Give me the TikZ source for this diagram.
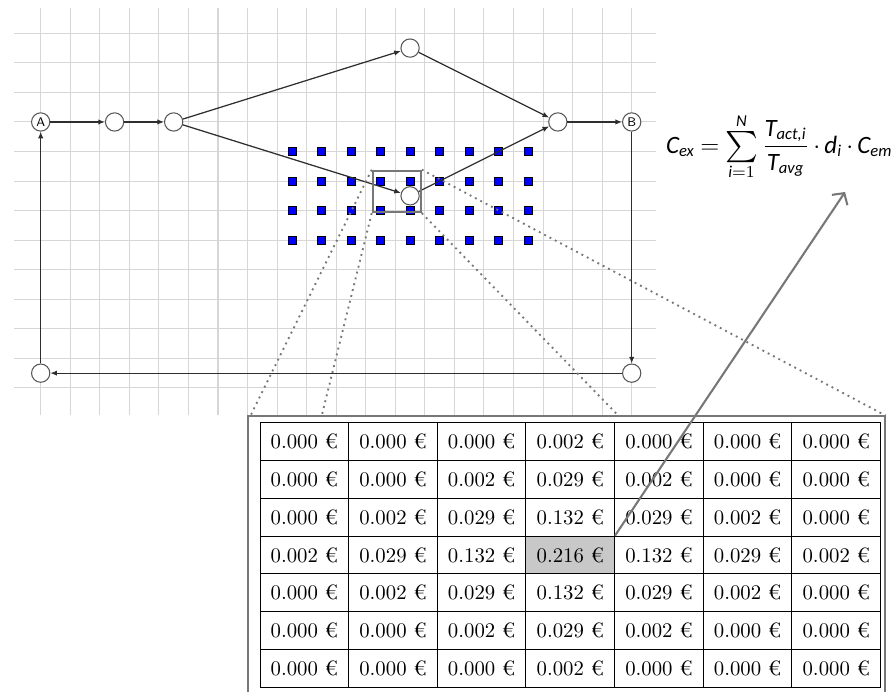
\documentclass[tikz,border=0pt]{standalone}
\definecolor{ZmGrid}{HTML}{D6D6D6}
\definecolor{ZmInk}{HTML}{2E2E2E}
\definecolor{ZmRing}{HTML}{555555}
\definecolor{ZmGray}{HTML}{777777}
\definecolor{ZmBlue}{HTML}{0000FF}
\definecolor{ZmShade}{HTML}{C8C8C8}
\usepackage{amsmath,amssymb}
\usepackage{graphicx}
\usepackage{fontspec}
\newfontfamily\eqfont{Carlito}
\newcommand{\ev}[1]{\text{\eqfont\itshape #1}}
\newcommand{\sumop}{\mathop{\vcenter{\hbox{\scalebox{1.25}{$\textstyle\sum$}}}}\limits}
\usepackage{tikz}
\usetikzlibrary{arrows.meta,positioning,calc}

\begin{document}
\begin{tikzpicture}[x=0.5cm,y=0.5cm,>={Latex[length=3.2pt,width=2.6pt]},
    waypt/.style={circle,draw=ZmRing,fill=white,line width=0.5pt,minimum size=8.8pt,inner sep=0pt,
      font=\sffamily\fontsize{6}{6}\selectfont},
    sensor/.style={rectangle,draw=black,line width=0.3pt,fill=ZmBlue,minimum size=3.9pt,inner sep=0pt},
    flow/.style={->,draw=ZmInk,line width=0.6pt},
    cell/.style={rectangle,draw=black,line width=0.45pt,minimum width=1.5cm,minimum height=0.6413cm,
      inner sep=0pt,font=\normalsize}]
    \useasboundingbox (-1.377,1.127) rectangle (28.775,-22.257);
    \foreach \i in {0,...,20}
      \draw[ZmGrid,line width=0.5pt] (\i,0.856) -- (\i,-12.92);
    \foreach \j in {0,...,12}
      \draw[ZmGrid,line width=0.5pt] (-0.9,-\j) -- (20.82,-\j);
    \foreach \sx in {8.5,9.5,...,16.5}
      \foreach \sy in {4,...,7}
        \node[sensor] (s-\sx-\sy) at (\sx,-\sy) {};
    \node[waypt] (ptA) at (0,-3) {A};
    \node[waypt] (w1) at (2.5,-3) {};
    \node[waypt] (w2) at (4.5,-3) {};
    \node[waypt] (wt) at (12.5,-0.5) {};
    \node[waypt] (wm) at (12.5,-5.5) {};
    \node[waypt] (wr) at (17.5,-3) {};
    \node[waypt] (ptB) at (20,-3) {B};
    \node[waypt] (wbr) at (20,-11.5) {};
    \node[waypt] (wbl) at (0,-11.5) {};
    \draw[flow] (ptA) -- (w1);
    \draw[flow] (w1) -- (w2);
    \draw[flow] (w2) -- (wt);
    \draw[flow] (w2) -- (wm);
    \draw[flow] (wt) -- (wr);
    \draw[flow] (wm) -- (wr);
    \draw[flow] (wr) -- (ptB);
    \draw[flow] (ptB) -- (wbr);
    \draw[flow] (wbr) -- (wbl);
    \draw[flow] (wbl) -- (ptA);
    \node[draw=ZmGray,line width=1pt,minimum width=0.8125cm,minimum height=0.7cm,inner sep=0pt]
      (zbox) at (12.05,-5.35) {};
    \draw[ZmGray,line width=1pt] (7.025,-22.4) -- (7.025,-12.94) -- (28.57,-12.94) -- (28.57,-22.4);
    \coordinate (q1) at (7.1,-12.94);
    \coordinate (q2) at (9.51,-12.94);
    \coordinate (q3) at (19.55,-12.94);
    \coordinate (q4) at (28.6,-12.94);
    \foreach \corner/\q in {north west/q1,south west/q2,south east/q3,north east/q4}
      \draw[ZmGray,dotted,line width=0.9pt] (zbox.\corner) -- (\q);
    \fill[ZmShade] (16.421,-17.012) rectangle +(3,-1.2826);
    \foreach \vals [count=\r] in {
        {0.000,0.000,0.000,0.002,0.000,0.000,0.000},
        {0.000,0.000,0.002,0.029,0.002,0.000,0.000},
        {0.000,0.002,0.029,0.132,0.029,0.002,0.000},
        {0.002,0.029,0.132,0.216,0.132,0.029,0.002},
        {0.000,0.002,0.029,0.132,0.029,0.002,0.000},
        {0.000,0.000,0.002,0.029,0.002,0.000,0.000},
        {0.000,0.000,0.000,0.002,0.000,0.000,0.000}}
      \foreach \v [count=\c] in \vals
        \node[cell] (t\r\c) at ({7.421+(\c-0.5)*3},{-13.164-(\r-0.5)*1.2826}) {\v~€};
    \coordinate (eqtip) at (27.22,-5.37);
    \draw[ZmGray,line width=1pt,-{Straight Barb[length=4pt,width=9pt,line width=1pt]}] (t44.north east) -- (eqtip);
    \node[anchor=west,inner sep=0pt,font=\fontsize{12}{14}\selectfont] (eq) at (21.15,-3.84)
      {$\thickmuskip=4mu \medmuskip=3mu \displaystyle \ev{C}_{\ev{ex}} = \sumop_{\ev{i}=1}^{\ev{N}} \frac{\ev{T}_{\ev{act,i}}}{\ev{T}_{\ev{avg}}} \cdot \ev{d}_{\ev{i}} \cdot \ev{C}_{\ev{em}}$};
  \end{tikzpicture}
\end{document}
